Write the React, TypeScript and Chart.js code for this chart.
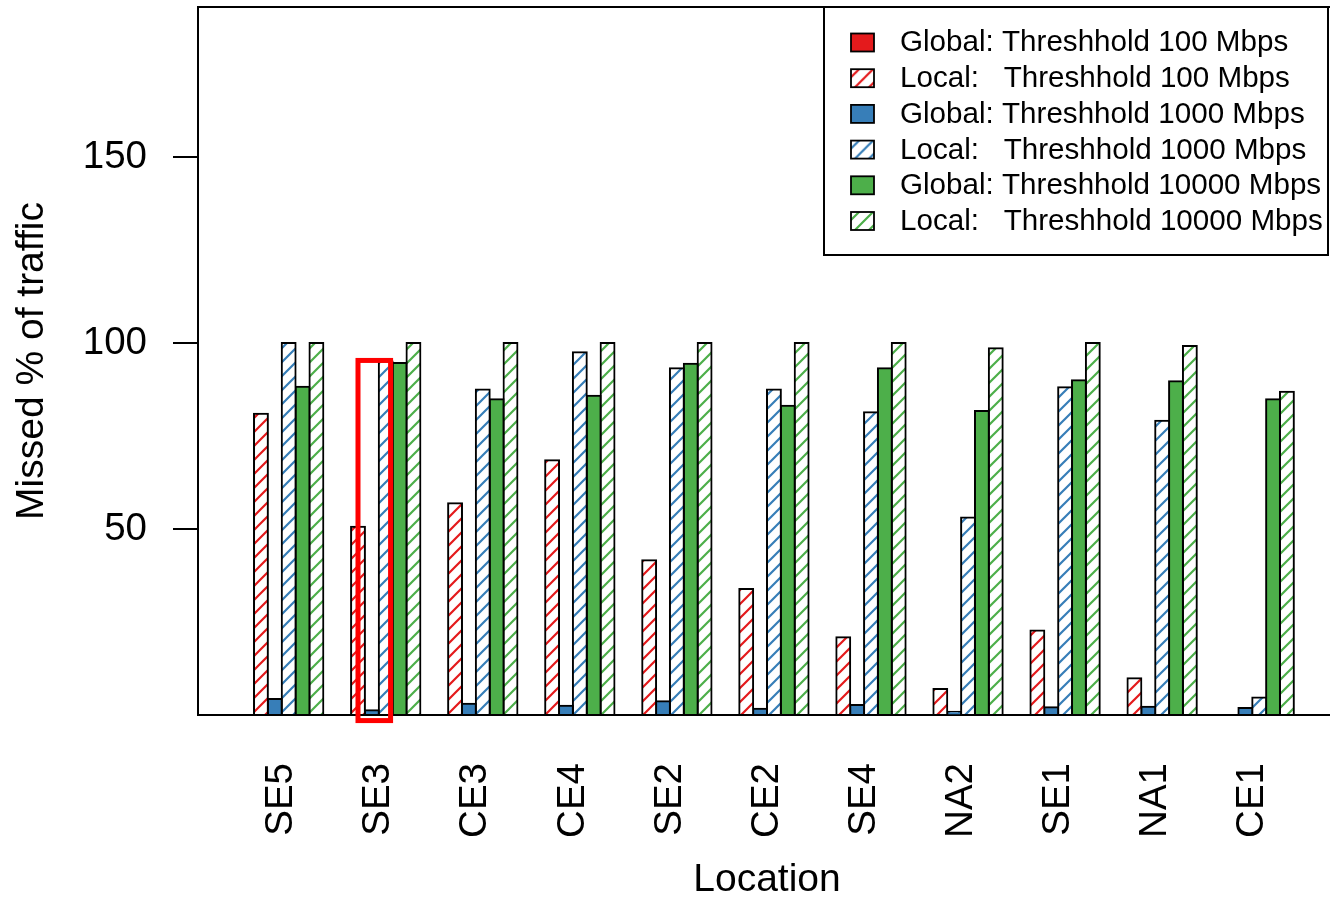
import React, { useEffect, useRef } from 'react';
import { Chart, registerables } from 'chart.js';

Chart.register(...registerables);

// ---- data ----
const locations = ['SE5', 'SE3', 'CE3', 'CE4', 'SE2', 'CE2', 'SE4', 'NA2', 'SE1', 'NA1', 'CE1'];
const global100 = [0, 0, 0, 0, 0, 0, 0, 0, 0, 0, 0];
const local100 = [81.0, 50.6, 56.9, 68.5, 41.6, 33.9, 20.9, 7.0, 22.7, 9.9, 0];
const global1000 = [4.3, 1.3, 3.0, 2.5, 3.7, 1.7, 2.7, 0.9, 2.1, 2.2, 1.9];
const local1000 = [100, 95.0, 87.5, 97.5, 93.2, 87.5, 81.4, 53.1, 88.1, 79.1, 4.7];
const global10000 = [88.2, 94.6, 84.9, 85.8, 94.4, 83.1, 93.2, 81.7, 90.0, 89.7, 84.9];
const local10000 = [100, 100, 100, 100, 100, 100, 100, 98.6, 100, 99.2, 86.9];

const seriesLabels = [
  'Global: Threshhold 100 Mbps',
  'Local:   Threshhold 100 Mbps',
  'Global: Threshhold 1000 Mbps',
  'Local:   Threshhold 1000 Mbps',
  'Global: Threshhold 10000 Mbps',
  'Local:   Threshhold 10000 Mbps',
];
const seriesValues = [global100, local100, global1000, local1000, global10000, local10000];
const seriesColors = ['#E41A1C', '#E41A1C', '#377EB8', '#377EB8', '#4DAF4A', '#4DAF4A'];
const seriesHatched = [false, true, false, true, false, true];

const yTicks = [50, 100, 150];
const yMax = 190.3;

// annotation: red box around part of the SE3 group (bar units within the group, y values)
const highlightLocation = 'SE3';
const highlightBars = [1.5, 3.85];
const highlightValues = [95.3, -1.5];

const FONT = '"Liberation Sans", Arial, Helvetica, sans-serif';
const CANVAS_W = 1336;
const CANVAS_H = 898;

function makeHatch(color: string): CanvasPattern | string {
  const s = 14;
  const c = document.createElement('canvas');
  c.width = s;
  c.height = s;
  const g = c.getContext('2d');
  if (!g) return color;
  g.fillStyle = '#ffffff';
  g.fillRect(0, 0, s, s);
  g.strokeStyle = color;
  g.lineWidth = 2.2;
  g.beginPath();
  g.moveTo(0, s);
  g.lineTo(s, 0);
  g.moveTo(-2, 2);
  g.lineTo(2, -2);
  g.moveTo(s - 2, s + 2);
  g.lineTo(s + 2, s - 2);
  g.stroke();
  return g.createPattern(c, 'repeat') || color;
}

export default function App() {
  const ref = useRef<HTMLCanvasElement>(null);

  useEffect(() => {
    const canvas = ref.current;
    if (!canvas) return;
    const nSeries = seriesValues.length;
    const GAP = 1;
    const groupSize = nSeries + GAP;
    const groupStart = (i: number) => GAP + i * groupSize;
    const center = (i: number) => groupStart(i) + nSeries / 2;
    const barsEnd = groupStart(locations.length - 1) + nSeries;
    const ext = 0.04 * (barsEnd - GAP);
    const xMin = GAP - ext;
    const xMax = barsEnd + ext;

    const patterns = seriesColors.map((c, s) => (seriesHatched[s] ? makeHatch(c) : c));

    const datasets = seriesValues.map((vals, s) => ({
      label: seriesLabels[s],
      data: vals.map((v, i) => ({ x: center(i), y: v })),
      backgroundColor: patterns[s] as any,
      borderColor: '#000000',
      borderWidth: 2,
      borderSkipped: false as any,
      inflateAmount: (ctx: any) => (ctx.raw && ctx.raw.y !== 0 ? 1 : 0),
      barPercentage: 1,
      categoryPercentage: nSeries / groupSize,
    }));

    const boxPlugin = {
      id: 'boxAndLegend',
      afterDraw(chart: any) {
        const { ctx, chartArea } = chart;
        const xs = chart.scales.x;
        const ys = chart.scales.y;
        ctx.save();
        // top border of plot box
        ctx.strokeStyle = '#000';
        ctx.lineWidth = 2;
        ctx.beginPath();
        ctx.moveTo(chartArea.left - 1, chartArea.top);
        ctx.lineTo(chartArea.right, chartArea.top);
        ctx.stroke();

        // legend
        const lx0 = 824;
        const lx1 = 1328;
        const ly0 = chartArea.top;
        const ly1 = 255;
        ctx.fillStyle = '#fff';
        ctx.fillRect(lx0, ly0, lx1 - lx0, ly1 - ly0);
        ctx.strokeRect(lx0, ly0, lx1 - lx0, ly1 - ly0);
        const rowY0 = 43.3;
        const rowStep = 35.7;
        ctx.font = `29.6px ${FONT}`;
        ctx.textBaseline = 'middle';
        ctx.textAlign = 'left';
        seriesLabels.forEach((lab, s) => {
          const cy = rowY0 + s * rowStep;
          const sx = 851;
          const sy = cy - 9.8;
          const sw = 23;
          const sh = 18;
          ctx.save();
          ctx.translate(sx, sy);
          if (seriesHatched[s]) {
            ctx.save();
            ctx.translate(4, 4);
            ctx.fillStyle = patterns[s];
            ctx.fillRect(-4, -4, sw, sh);
            ctx.restore();
          } else {
            ctx.fillStyle = seriesColors[s];
            ctx.fillRect(0, 0, sw, sh);
          }
          ctx.lineWidth = 1.8;
          ctx.strokeStyle = '#000';
          ctx.strokeRect(0, 0, sw, sh);
          ctx.restore();
          ctx.fillStyle = '#000';
          ctx.fillText(lab, 900, cy);
        });

        // highlight rectangle
        const hi = locations.indexOf(highlightLocation);
        if (hi >= 0) {
          const gx = groupStart(hi);
          const x0 = xs.getPixelForValue(gx + highlightBars[0]);
          const x1 = xs.getPixelForValue(gx + highlightBars[1]);
          const y0 = ys.getPixelForValue(highlightValues[0]);
          const y1 = ys.getPixelForValue(highlightValues[1]);
          ctx.strokeStyle = '#FF0000';
          ctx.lineWidth = 5;
          ctx.strokeRect(x0, y0, x1 - x0, y1 - y0);
        }
        ctx.restore();
      },
    };

    const chart = new Chart(canvas, {
      type: 'bar',
      data: { datasets: datasets as any },
      options: {
        responsive: false,
        animation: false,
        events: [],
        layout: { padding: { top: 7, left: 0, right: 0, bottom: 0 }, autoPadding: false } as any,
        plugins: {
          legend: { display: false },
          tooltip: { enabled: false },
          title: { display: false },
        },
        scales: {
          x: {
            type: 'linear',
            min: xMin,
            max: xMax,
            offset: false,
            afterBuildTicks: (scale: any) => {
              scale.ticks = locations.map((_, i) => ({ value: center(i) }));
            },
            afterFit: (scale: any) => {
              scale.height = CANVAS_H - 715;
              scale.paddingLeft = 0;
              scale.paddingRight = 0;
            },
            grid: { display: false, drawTicks: false },
            border: { display: true, color: '#000', width: 2 },
            ticks: {
              autoSkip: false,
              minRotation: 90,
              maxRotation: 90,
              padding: 48,
              color: '#000',
              font: { family: FONT, size: 38.5 },
              callback: (v: any) => {
                const i = Math.round((Number(v) - GAP - nSeries / 2) / groupSize);
                return locations[i] ?? '';
              },
            },
            title: {
              display: true,
              text: 'Location',
              color: '#000',
              font: { family: FONT, size: 39, lineHeight: 1 },
              padding: { top: 0, bottom: -1.5 },
            },
          } as any,
          y: {
            type: 'linear',
            min: 0,
            max: yMax,
            afterBuildTicks: (scale: any) => {
              scale.ticks = yTicks.map((v) => ({ value: v }));
            },
            afterFit: (scale: any) => {
              scale.width = 198;
              scale.paddingTop = 0;
              scale.paddingBottom = 0;
            },
            grid: {
              display: true,
              drawOnChartArea: false,
              drawTicks: true,
              tickLength: 25,
              color: '#000',
              lineWidth: 2,
            },
            border: { display: true, color: '#000', width: 2 },
            ticks: {
              padding: 26,
              color: '#000',
              font: { family: FONT, size: 38.5 },
            },
            title: {
              display: true,
              text: 'Missed % of traffic',
              color: '#000',
              font: { family: FONT, size: 39, lineHeight: 1 },
              padding: { top: 13, bottom: 0 },
            },
          } as any,
        },
      },
      plugins: [boxPlugin],
    });

    return () => {
      chart.destroy();
    };
  }, []);

  return (
    <div
      style={{
        position: 'fixed',
        left: 0,
        top: 0,
        width: 1330,
        height: 898,
        overflow: 'hidden',
        background: '#ffffff',
      }}
    >
      <canvas ref={ref} width={CANVAS_W} height={CANVAS_H} style={{ display: 'block' }} />
    </div>
  );
}
